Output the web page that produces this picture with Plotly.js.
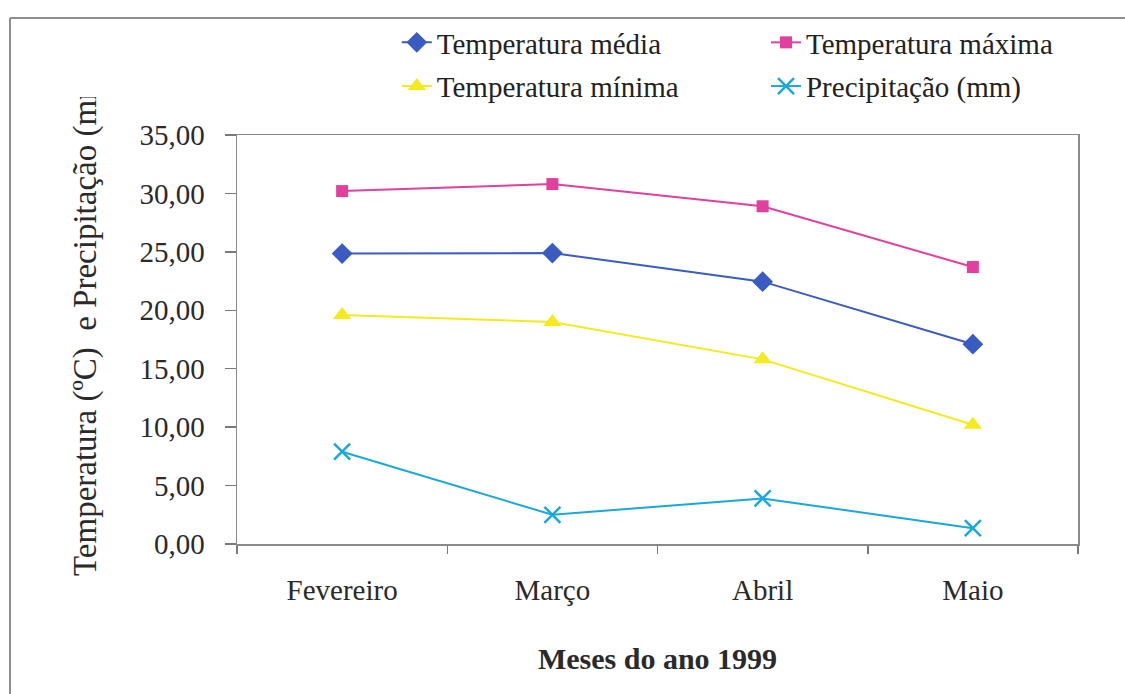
<!DOCTYPE html>
<html>
<head>
<meta charset="utf-8">
<script src="https://cdn.plot.ly/plotly-3.0.1.min.js"></script>
<style>
  html, body { margin: 0; padding: 0; background: #ffffff; }
  #chart { width: 1125px; height: 694px; }
</style>
</head>
<body>
<div id="chart"></div>
<script>
// Monthly climate summary, February–May 1999
const months = ['Fevereiro', 'Março', 'Abril', 'Maio'];
const tempMedia = [24.85, 24.9, 22.45, 17.1];
const tempMaxima = [30.2, 30.8, 28.9, 23.7];
const tempMinima = [19.6, 19.0, 15.8, 10.2];
const precipitacao = [7.9, 2.5, 3.9, 1.35];

const seriesNames = ['Temperatura média', 'Temperatura máxima', 'Temperatura mínima', 'Precipitação (mm)'];
const yTicks = [0, 5, 10, 15, 20, 25, 30, 35];
const yTitle = 'Temperatura (ºC)&nbsp; e Precipitação (mm)';
const xTitle = '<b>Meses do ano 1999</b>';

const serif = 'Liberation Serif, Times New Roman, serif';

function line(name, y, color, symbol, size, legendId, extra) {
  return Object.assign({
    type: 'scatter',
    mode: 'lines+markers',
    name: name,
    legend: legendId,
    legendgroup: name,
    x: months,
    y: y,
    line: { color: color, width: 2 },
    marker: { symbol: symbol, size: size, color: color }
  }, extra || {});
}

// two legend columns: left holds média / mínima, right holds máxima / precipitação
const traces = [
  line(seriesNames[0], tempMedia, '#3a5cc2', 'diamond', 16, 'legend'),
  line(seriesNames[1], tempMaxima, '#e2409e', 'square', 12, 'legend2'),
  line(seriesNames[2], tempMinima, '#f5ea1e', 'triangle-up', 16, 'legend'),
  line(seriesNames[3], precipitacao, '#1aa7dc', 'x-thin-open', 16, 'legend2', {
    marker: { symbol: 'x-thin-open', size: 16, color: '#1aa7dc', line: { color: '#1aa7dc', width: 2.5 } }
  })
];

const frameColor = '#8e8e8e';
const legendFont = { family: serif, size: 29, color: '#222222' };
const legendTop = (544 - 17) / 409;

const layout = {
  width: 1125,
  height: 694,
  paper_bgcolor: '#ffffff',
  plot_bgcolor: '#ffffff',
  separators: ',.',
  margin: { l: 237, r: 47, t: 135, b: 150, pad: 0 },
  font: { family: serif, size: 29, color: '#222222' },
  showlegend: true,
  legend: {
    orientation: 'v', x: 0.19, y: legendTop, xanchor: 'left', yanchor: 'top',
    font: legendFont, bgcolor: 'rgba(0,0,0,0)', tracegroupgap: 3
  },
  legend2: {
    orientation: 'v', x: 0.629, y: legendTop, xanchor: 'left', yanchor: 'top',
    font: legendFont, bgcolor: 'rgba(0,0,0,0)', tracegroupgap: 3
  },
  xaxis: {
    type: 'category',
    range: [-0.5, 3.5],
    tickson: 'boundaries',
    ticks: 'outside',
    ticklen: 8,
    tickwidth: 1.5,
    tickcolor: '#7a7a7a',
    showline: true,
    linecolor: '#8a8a8a',
    linewidth: 1.5,
    mirror: true,
    showgrid: false,
    zeroline: false,
    ticklabelstandoff: 20,
    tickfont: { family: serif, size: 29, color: '#2a2a2a' },
    title: {
      text: xTitle,
      font: { family: serif, size: 30, color: '#2a2a2a' },
      standoff: 42
    }
  },
  yaxis: {
    range: [0, 35],
    tickvals: yTicks,
    tickformat: '.2f',
    ticks: 'outside',
    ticklen: 11,
    tickwidth: 1.5,
    tickcolor: '#7a7a7a',
    showline: true,
    linecolor: '#8a8a8a',
    linewidth: 1.5,
    mirror: true,
    showgrid: false,
    zeroline: false,
    ticklabelstandoff: 14,
    tickfont: { family: serif, size: 29, color: '#2a2a2a' }
  },
  annotations: [
    // vertical axis title, sitting a little above the plot's centre
    {
      text: yTitle,
      textangle: -90,
      xref: 'paper', yref: 'paper',
      x: (85 - 237) / 841, y: (544 - 320) / 409,
      xanchor: 'center', yanchor: 'middle',
      showarrow: false,
      font: { family: serif, size: 33, color: '#2a2a2a' }
    }
  ],
  shapes: [
    // outer frame: top and left edges
    { type: 'line', xref: 'paper', yref: 'paper', x0: (10 - 237) / 841, x1: 1.06, y0: (544 - 18) / 409, y1: (544 - 18) / 409,
      line: { color: frameColor, width: 2 } },
    { type: 'line', xref: 'paper', yref: 'paper', x0: (10 - 237) / 841, x1: (10 - 237) / 841, y0: (544 - 18) / 409, y1: -0.4,
      line: { color: frameColor, width: 2 } }
  ]
};

const gd = document.getElementById('chart');
Plotly.newPlot(gd, traces, layout, { staticPlot: true, displayModeBar: false }).then(function () {
  // the vertical title runs past the top of its box and is cut off there
  const g = gd.querySelector('.annotation');
  if (!g) return;
  const svg = g.ownerSVGElement;
  const ns = 'http://www.w3.org/2000/svg';
  let defs = svg.querySelector('defs');
  if (!defs) { defs = document.createElementNS(ns, 'defs'); svg.insertBefore(defs, svg.firstChild); }
  const cp = document.createElementNS(ns, 'clipPath');
  cp.setAttribute('id', 'ytitle-cut');
  cp.setAttribute('clipPathUnits', 'userSpaceOnUse');
  const r = document.createElementNS(ns, 'rect');
  r.setAttribute('x', 0); r.setAttribute('y', 97);
  r.setAttribute('width', 1125); r.setAttribute('height', 620);
  cp.appendChild(r);
  defs.appendChild(cp);
  g.setAttribute('clip-path', 'url(#ytitle-cut)');
});
</script>
</body>
</html>
